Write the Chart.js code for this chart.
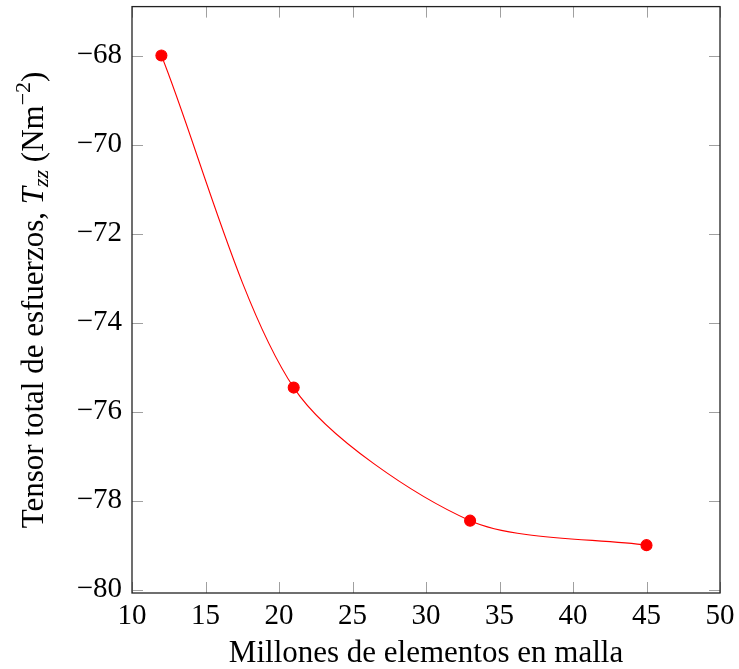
<!DOCTYPE html>
<html>
<head>
<meta charset="utf-8">
<script src="https://cdn.jsdelivr.net/npm/chart.js@4/dist/chart.umd.min.js"></script>
<style>
  html, body { margin: 0; padding: 0; background: #fff; }
  #wrap { width: 739px; height: 669px; }
</style>
</head>
<body>
<div id="wrap"><canvas id="meshChart"></canvas></div>
<script>
// valores
const elementos = [12, 21, 33, 45];          // millones de elementos
const tensorTzz = [-68.0, -75.46, -78.45, -79.0];
const xTicks = [10, 15, 20, 25, 30, 35, 40, 45, 50];
const yTicks = [-80, -78, -76, -74, -72, -70, -68];

const serif = '"Liberation Serif", "DejaVu Serif", serif';

// marco negro y marcas de division hacia dentro (estilo pgfplots)
const frameTicks = {
    id: 'frameTicks',
    afterDatasetsDraw(chart) {
        const { ctx, chartArea: a, scales } = chart;
        const len = 11;
        ctx.save();
        ctx.strokeStyle = '#a0a0a0';
        ctx.lineWidth = 1;
        ctx.beginPath();
        xTicks.forEach(v => {
            const x = Math.round(scales.x.getPixelForValue(v)) + 0.5;
            ctx.moveTo(x, a.bottom); ctx.lineTo(x, a.bottom - len);
            ctx.moveTo(x, a.top); ctx.lineTo(x, a.top + len);
        });
        yTicks.forEach(v => {
            const y = Math.round(scales.y.getPixelForValue(v)) + 0.5;
            ctx.moveTo(a.left, y); ctx.lineTo(a.left + len, y);
            ctx.moveTo(a.right, y); ctx.lineTo(a.right - len, y);
        });
        ctx.stroke();
        ctx.strokeStyle = '#222';
        ctx.lineWidth = 1.3;
        ctx.strokeRect(a.left, a.top, a.right - a.left, a.bottom - a.top);
        ctx.restore();
    },
    afterDraw(chart) {
        // titulo del eje y con T_zz y superindice
        const { ctx } = chart;
        const parts = [
            { t: 'Tensor total de esfuerzos, ', f: '31px ' + serif, dy: 0 },
            { t: 'T', f: 'italic 31px ' + serif, dy: 0 },
            { t: 'zz', f: 'italic 22px ' + serif, dy: 5 },
            { t: ' (Nm', f: '31px ' + serif, dy: 0 },
            { t: '\u22122', f: '22px ' + serif, dy: -13 },
            { t: ')', f: '31px ' + serif, dy: 0 }
        ];
        ctx.save();
        let total = 0;
        parts.forEach(p => { ctx.font = p.f; p.w = ctx.measureText(p.t).width; total += p.w; });
        ctx.translate(43, 300);
        ctx.rotate(-Math.PI / 2);
        ctx.fillStyle = '#000';
        ctx.textBaseline = 'alphabetic';
        let x = -total / 2;
        parts.forEach(p => {
            ctx.font = p.f;
            ctx.fillText(p.t, x, p.dy);
            x += p.w;
        });
        ctx.restore();
    }
};

new Chart(document.getElementById('meshChart'), {
    type: 'line',
    data: {
        datasets: [{
            data: elementos.map((x, i) => ({ x: x, y: tensorTzz[i] })),
            borderColor: '#ff0000',
            backgroundColor: '#ff0000',
            borderWidth: 1.1,
            pointRadius: 5.5,
            pointHoverRadius: 5.5,
            tension: 0.28,
            fill: false
        }]
    },
    options: {
        responsive: true,
        maintainAspectRatio: false,
        animation: false,
        layout: { padding: { top: 5, right: 19, left: 0, bottom: 0 } },
        plugins: { legend: { display: false }, tooltip: { enabled: false } },
        scales: {
            x: {
                type: 'linear',
                min: 10, max: 50,
                afterBuildTicks: s => { s.ticks = xTicks.map(v => ({ value: v })); },
                afterFit: s => { s.height = 76; s.paddingLeft = 0; s.paddingRight = 0; },
                grid: { display: false, drawTicks: false },
                border: { display: false },
                ticks: {
                    color: '#000', padding: 6,
                    font: { family: serif, size: 29 },
                    maxRotation: 0
                },
                title: {
                    display: true,
                    text: 'Millones de elementos en malla',
                    color: '#000',
                    font: { family: serif, size: 31 },
                    padding: { top: 0, bottom: -3 }
                }
            },
            y: {
                type: 'linear',
                min: -80.075, max: -66.9,
                afterBuildTicks: s => { s.ticks = yTicks.map(v => ({ value: v })); },
                afterFit: s => { s.width = 132; s.paddingTop = 0; s.paddingBottom = 0; },
                grid: { display: false, drawTicks: false },
                border: { display: false },
                ticks: {
                    color: '#000', padding: 10,
                    font: { family: serif, size: 29 },
                    callback: v => (v < 0 ? '\u2212' + Math.abs(v) : String(v))
                }
            }
        }
    },
    plugins: [frameTicks]
});
</script>
</body>
</html>
